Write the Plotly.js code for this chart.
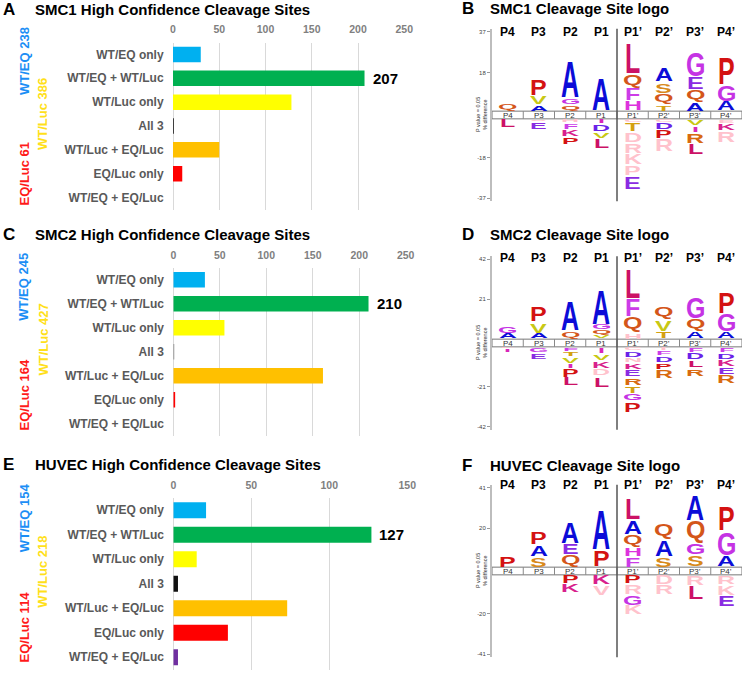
<!DOCTYPE html>
<html><head><meta charset="utf-8">
<script src="https://cdn.plot.ly/plotly-3.0.1.min.js"></script>
<style>html,body{margin:0;padding:0;background:#fff}#chart{width:744px;height:680px}</style>
</head><body><div id="chart"></div>
<script>
// ---------------- DATA ----------------
const barCategories = ["WT/EQ only","WT/EQ + WT/Luc","WT/Luc only","All 3","WT/Luc + EQ/Luc","EQ/Luc only","WT/EQ + EQ/Luc"];
const smc1Counts  = [30, 207, 128, 1, 50, 10, 0];
const smc2Counts  = [34, 210, 55, 1, 161, 2, 0];
const huvecCounts = [21, 127, 15, 3, 73, 35, 3];
const smc1Totals  = ["WT/EQ 238", "WT/Luc 386", "EQ/Luc 61"];
const smc2Totals  = ["WT/EQ 245", "WT/Luc 427", "EQ/Luc 164"];
const huvecTotals = ["WT/EQ 154", "WT/Luc 218", "EQ/Luc 114"];
const barTitles   = ["SMC1 High Confidence Cleavage Sites", "SMC2 High Confidence Cleavage Sites", "HUVEC High Confidence Cleavage Sites"];
const logoTitles  = ["SMC1 Cleavage Site logo", "SMC2 Cleavage Site logo", "HUVEC Cleavage Site logo"];
const panelLetters = ["A","B","C","D","E","F"];
const logoPositions = ["P4","P3","P2","P1","P1\u2019","P2\u2019","P3\u2019","P4\u2019"];
const logoAxisTicks = [[37,18],[42,21],[41,20]];   // max, mid (% difference)

// letters per position; above: bottom->top, below: top->bottom; lowercase = faded residue
const smc1AboveLetters = ["Q","AVP","QGA","A","HFQL","TQSA","AQEG","AGP"];
const smc1AboveHeights = [[3.5],[3.2,4.1,7.8],[3.2,3.2,17.1],[15.7],[4.7,6.3,6.5,14.7],[3.2,5.1,5.1,6.5],[4.0,6.1,6.1,11.5],[4.7,7.8,12.8]];
const smc1BelowLetters = ["L","sE","hFKP","IDVL","cTdrkpE","cDPr","VIRL","eKr"];
const smc1BelowHeights = [[4.0],[1.4,3.7],[1.8,3.2,3.5,3.5],[2.3,3.7,3.2,4.6],[1.7,4.0,5.1,5.1,5.5,5.1,6.3],[1.7,3.5,4.0,5.9],[3.2,3.1,5.1,5.5],[2.0,3.8,5.4]];

const smc2AboveLetters = ["AG","AVP","QA","VQGA","hQFL","TVQ","AQG","AGP"];
const smc2AboveHeights = [[3.2,4.4],[3.2,5.8,8.4],[4.1,15.8],[1.9,2.8,3.2,18.5],[3.5,8.4,9.5,16.3],[4.0,6.3,7.0],[4.0,6.7,12.0],[4.0,9.8,12.0]];
const smc2BelowLetters = ["fI","GE","FTVIPL","IVKdL","cDnKERTGP","iFDPR","FDLR","FDKER"];
const smc2BelowHeights = [[1.0,2.1],[3.0,3.5],[2.3,2.8,3.5,2.6,4.6,4.6],[3.5,3.5,4.4,4.1,5.8],[1.9,3.5,3.0,3.5,4.1,4.4,4.1,4.1,5.8],[2.0,2.5,3.7,3.7,4.6],[3.0,3.9,3.9,4.4],[3.0,3.5,4.0,4.2,4.9]];

const huvecAboveLetters = ["P","SAP","QEA","PA","FHQAL","SAQ","SGQA","AGP"];
const huvecAboveHeights = [[5.8],[5.3,6.2,7.0],[6.5,6.0,11.6],[9.1,21.0],[5.3,5.0,6.5,7.7,11.8],[5.3,8.7,8.7],[6.2,6.0,12.0,13.7],[6.2,12.5,13.3]];
const huvecBelowLetters = ["","","PK","Kv","PrGk","dr","rL","rkE"];
const huvecBelowHeights = [[],[],[4.5,4.8],[5.1,5.6],[4.5,5.6,5.6,5.1],[5.1,5.1],[5.6,7.3],[4.8,5.6,6.0]];

// ---------------- STYLE / LAYOUT ----------------
const W = 744, H = 680;
const px = x => x / W, py = y => 1 - y / H;
const FONT = 'Liberation Sans, Arial, sans-serif';
const letterColors = {A:'#0c0cd8',P:'#d41212',G:'#c533e4',Q:'#d4561a',L:'#cc1166',E:'#8a2be2',D:'#6a22e8',
  F:'#cc3ce8',H:'#dd33dd',V:'#c8c814',T:'#d4a010',S:'#d8891a',I:'#d826b8',K:'#d8208c',R:'#d86a10',
  N:'#e070b0',C:'#ffc2cc',Y:'#c8c814',M:'#444'};
const fadedColor = '#ffc2cc';
const barColorsBase = ['#00B0F0','#00B050','#FFFF00',null,'#FFC000','#FF0000','#7030A0'];
const totalColors = ['#1c8ef5','#ffe01a','#ff1a1a'];

const barPanels = [
  {counts:smc1Counts, totals:smc1Totals, xMax:250, xPix:[173,404.3], yPix:[42.5,209.5], allColor:'#333333', titleY:10, totalY:[61,114,173.5]},
  {counts:smc2Counts, totals:smc2Totals, xMax:250, xPix:[173.3,405.7], yPix:[267.7,435.7], allColor:'#808080', titleY:234, totalY:[286.7,339.5,394.5]},
  {counts:huvecCounts, totals:huvecTotals, xMax:150, xPix:[173.3,407.3], yPix:[498,669.5], allColor:'#111111', titleY:464, totalY:[518.3,571.7,627.5]}
];
const logoPanels = [
  {above:[smc1AboveLetters,smc1AboveHeights], below:[smc1BelowLetters,smc1BelowHeights], ticks:logoAxisTicks[0], tickTop:31.7, tickBot:198.3, titleY:9, headY:31.5},
  {above:[smc2AboveLetters,smc2AboveHeights], below:[smc2BelowLetters,smc2BelowHeights], ticks:logoAxisTicks[1], tickTop:259.3, tickBot:426.7, titleY:234, headY:258},
  {above:[huvecAboveLetters,huvecAboveHeights], below:[huvecBelowLetters,huvecBelowHeights], ticks:logoAxisTicks[2], tickTop:487.7, tickBot:654.3, titleY:465, headY:485}
];

const data = [];
const layout = {width:W, height:H, margin:{l:0,r:0,t:0,b:0}, paper_bgcolor:'#fff', plot_bgcolor:'rgba(0,0,0,0)',
  showlegend:false, font:{family:FONT}, annotations:[], shapes:[]};
const letterInfo = {};
const LETTER_FS = 25;
const LETTER_WEIGHT = 700;

// bar panels
barPanels.forEach((p, i) => {
  const xa = i === 0 ? 'x' : 'x' + (i + 1), ya = i === 0 ? 'y' : 'y' + (i + 1);
  const xk = i === 0 ? 'xaxis' : 'xaxis' + (i + 1), yk = i === 0 ? 'yaxis' : 'yaxis' + (i + 1);
  const colors = barColorsBase.map(c => c === null ? p.allColor : c);
  data.push({type:'bar', orientation:'h', x:p.counts, y:barCategories.map((_, k) => k), xaxis:xa, yaxis:ya,
    width:0.65, marker:{color:colors, line:{width:0}}, hoverinfo:'none'});
  layout[xk] = {domain:[px(p.xPix[0]), px(p.xPix[1])], range:[0, p.xMax], side:'top', anchor:ya, dtick:50,
    showgrid:true, gridcolor:'#d9d9d9', gridwidth:1, zeroline:true, zerolinecolor:'#d9d9d9', zerolinewidth:1,
    showline:false, ticks:'outside', ticklen:4, tickcolor:'rgba(0,0,0,0)',
    tickfont:{family:FONT, size:10.5, color:'#808080', weight:700}, fixedrange:true};
  layout[yk] = {domain:[py(p.yPix[1]), py(p.yPix[0])], range:[6.5, -0.5], anchor:xa,
    tickvals:barCategories.map((_, k) => k), ticktext:barCategories, showgrid:false, zeroline:false, showline:false,
    ticks:'outside', ticklen:6, tickcolor:'rgba(0,0,0,0)',
    tickfont:{family:FONT, size:12, color:'#595959', weight:700}, fixedrange:true};
  // value label for the largest bar
  const maxIdx = p.counts.indexOf(Math.max(...p.counts));
  layout.annotations.push({xref:xa, yref:ya, x:p.counts[maxIdx], y:maxIdx, text:String(p.counts[maxIdx]),
    xanchor:'left', yanchor:'middle', xshift:6, showarrow:false, font:{family:FONT, size:15, color:'#000', weight:700}});
  // titles
  layout.annotations.push({xref:'paper', yref:'paper', x:px(1), y:py(p.titleY), text:panelLetters[i * 2], xanchor:'left', yanchor:'middle',
    showarrow:false, font:{family:FONT, size:17, color:'#000', weight:700}});
  layout.annotations.push({xref:'paper', yref:'paper', x:px(33), y:py(p.titleY), text:barTitles[i], xanchor:'left', yanchor:'middle',
    showarrow:false, font:{family:FONT, size:15, color:'#000', weight:700}});
  // totals (rotated)
  const tx = [24, 43, 24];
  p.totals.forEach((t, k) => {
    layout.annotations.push({xref:'paper', yref:'paper', x:px(tx[k]), y:py(p.totalY[k]), text:t, textangle:-90,
      xanchor:'center', yanchor:'middle', showarrow:false, font:{family:FONT, size:13, color:totalColors[k], weight:700}});
  });
});

// logo panels
logoPanels.forEach((p, i) => {
  const n = 4 + i;
  const xa = 'x' + n, ya = 'y' + n;
  const M = p.ticks[0], m = p.ticks[1];
  const bandPx = 7.7, ext = 3;
  const s = (p.tickBot - p.tickTop - bandPx) / (2 * M);   // px per unit
  const g = bandPx / 2 / s;
  const e = ext / s;
  layout['xaxis' + n] = {domain:[px(492), px(742)], range:[0, 8], anchor:ya, visible:false, fixedrange:true};
  layout['yaxis' + n] = {domain:[py(p.tickBot + ext), py(p.tickTop - ext)], range:[-(g + M + e), g + M + e], anchor:xa,
    tickvals:[-(g + M), -(g + m), g + m, g + M], ticktext:[String(-M), String(-m), String(m), String(M)],
    ticks:'outside', ticklen:3, tickcolor:'#999', tickwidth:1, showline:true, linecolor:'#bdbdbd', linewidth:2,
    showgrid:false, zeroline:false, tickfont:{family:FONT, size:6, color:'#444'}, fixedrange:true};
  data.push({type:'scatter', mode:'markers', x:[0.5], y:[0], xaxis:xa, yaxis:ya, marker:{opacity:0}, hoverinfo:'none'});
  // band
  layout.shapes.push({type:'rect', xref:xa, yref:ya, x0:0, x1:8, y0:-g, y1:g, fillcolor:'#fff', line:{color:'#777', width:1}, layer:'above'});
  for (let k = 1; k < 8; k++) layout.shapes.push({type:'line', xref:xa, yref:ya, x0:k, x1:k, y0:-g, y1:g, line:{color:'#888', width:1}, layer:'above'});
  // separator between P1 and P1'
  layout.shapes.push({type:'line', xref:xa, yref:ya + ' domain', x0:4, x1:4, y0:0, y1:1, line:{color:'#555', width:1.5}, layer:'above'});
  // band labels and headers
  logoPositions.forEach((lab, k) => {
    layout.annotations.push({xref:xa, yref:ya, x:k + 0.5, y:0, text:lab, showarrow:false, xanchor:'center', yanchor:'middle',
      font:{family:FONT, size:8, color:'#333'}});
    layout.annotations.push({xref:xa, yref:'paper', x:k + 0.5, y:py(p.headY), text:lab, showarrow:false, xanchor:'center', yanchor:'middle',
      font:{family:FONT, size:12, color:'#000', weight:700}});
  });
  // axis title
  const bandC = (p.tickTop + p.tickBot) / 2;
  layout.annotations.push({xref:'paper', yref:'paper', x:px(478), y:py(bandC), text:'P value = 0.05', textangle:-90, showarrow:false,
    xanchor:'center', yanchor:'middle', font:{family:FONT, size:5.5, color:'#333'}});
  layout.annotations.push({xref:'paper', yref:'paper', x:px(485), y:py(bandC), text:'% difference', textangle:-90, showarrow:false,
    xanchor:'center', yanchor:'middle', font:{family:FONT, size:5.5, color:'#333'}});
  // titles
  layout.annotations.push({xref:'paper', yref:'paper', x:px(460), y:py(p.titleY), text:panelLetters[i * 2 + 1], xanchor:'left', yanchor:'middle',
    showarrow:false, font:{family:FONT, size:17, color:'#000', weight:700}});
  layout.annotations.push({xref:'paper', yref:'paper', x:px(487.5), y:py(p.titleY), text:logoTitles[i], xanchor:'left', yanchor:'middle',
    showarrow:false, font:{family:FONT, size:15, color:'#000', weight:700}});
  // letters
  const addStack = (letters, heights, sign) => {
    letters.forEach((str, col) => {
      let base = g;
      str.split('').forEach((ch, j) => {
        const h = heights[col][j];
        const center = base + h / 2;
        const faded = ch !== ch.toUpperCase();
        const up = ch.toUpperCase();
        const idx = layout.annotations.length;
        layout.annotations.push({xref:xa, yref:ya, x:col + 0.5, y:sign * center, text:up, showarrow:false,
          xanchor:'center', yanchor:'middle', borderpad:0,
          font:{family:FONT, size:LETTER_FS, weight:LETTER_WEIGHT, color:faded ? fadedColor : (letterColors[up] || '#444')}});
        letterInfo[idx] = {ch:up, px:Math.max(h * s - 1.2, 0.8)};
        base += h;
      });
    });
  };
  addStack(p.above[0], p.above[1], 1);
  addStack(p.below[0], p.below[1], -1);
});

// ---------------- RENDER ----------------
const gd = document.getElementById('chart');
const ctx = document.createElement('canvas').getContext('2d');
ctx.font = 'bold ' + LETTER_FS + 'px "Liberation Sans"';
function stretchLetters() {
  gd.querySelectorAll('g.annotation').forEach(gEl => {
    const idx = +gEl.getAttribute('data-index');
    const info = letterInfo[idx];
    if (!info) return;
    const t = gEl.querySelector('text.annotation-text');
    if (!t) return;
    const bb = t.getBBox();
    const mm = ctx.measureText(info.ch);
    const fba = mm.fontBoundingBoxAscent || LETTER_FS * 0.905;
    const gTop = bb.y + fba - mm.actualBoundingBoxAscent;
    const gBot = bb.y + fba + mm.actualBoundingBoxDescent;
    const gh = gBot - gTop, gc = (gTop + gBot) / 2;
    const cy = bb.y + bb.height / 2;
    const sy = info.px / gh;
    t.setAttribute('transform', `translate(0,${cy}) scale(1,${sy}) translate(0,${-gc})`);
  });
}
Plotly.newPlot(gd, data, layout, {staticPlot:true, displayModeBar:false}).then(stretchLetters);
</script>
</body></html>
